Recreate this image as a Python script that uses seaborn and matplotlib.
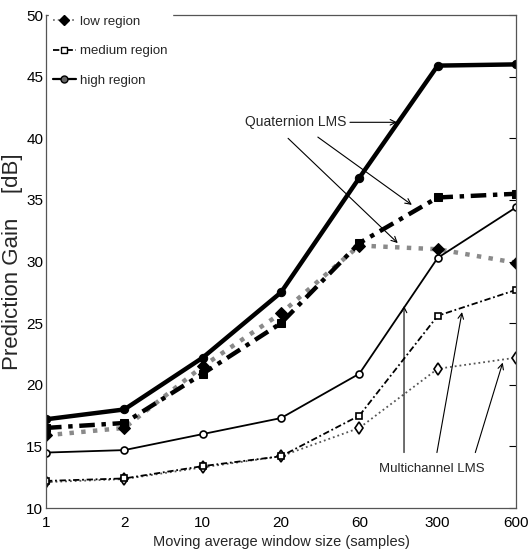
import numpy as np
import matplotlib
matplotlib.use("Agg")
import matplotlib.pyplot as plt
from matplotlib.lines import Line2D
import seaborn as sns

# window sizes (categorical, equally spaced on the axis)
window_labels = ["1", "2", "10", "20", "60", "300", "600"]

# Quaternion LMS
q_low = [15.9, 16.5, 21.5, 25.8, 31.3, 31.0, 29.9]
q_medium = [16.5, 16.9, 20.9, 25.0, 31.5, 35.2, 35.5]
q_high = [17.2, 18.0, 22.2, 27.5, 36.8, 45.9, 46.0]

# Multichannel LMS
m_low = [12.1, 12.35, 13.3, 14.2, 16.5, 21.3, 22.2]
m_medium = [12.2, 12.4, 13.4, 14.2, 17.5, 25.6, 27.7]
m_high = [14.5, 14.7, 16.0, 17.3, 20.9, 30.3, 34.4]

sns.set_style("white")
plt.rcParams['font.family'] = ['Liberation Sans', 'DejaVu Sans']

fig = plt.figure(figsize=(5.32, 5.59), dpi=100)
ax = fig.add_axes([0.0865, 0.0912, 0.8835, 0.8818])

x = np.arange(len(window_labels))
dashdot = (0, (3.5, 1.5, 1, 1.5))

# thick = quaternion, thin = multichannel
sns.lineplot(x=x, y=q_low, ax=ax, color="#8a8a8a", linewidth=3.2, linestyle=":",
             marker="D", markersize=6, markerfacecolor="black", markeredgecolor="black")
sns.lineplot(x=x, y=q_medium, ax=ax, color="black", linewidth=3.2, linestyle=dashdot,
             marker="s", markersize=6, markerfacecolor="black", markeredgecolor="black")
sns.lineplot(x=x, y=q_high, ax=ax, color="black", linewidth=3.2, linestyle="-",
             marker="o", markersize=6, markerfacecolor="black", markeredgecolor="black")

sns.lineplot(x=x, y=m_low, ax=ax, color="#555555", linewidth=1.3, linestyle=":",
             marker="d", markersize=6, markerfacecolor="white", markeredgecolor="black", markeredgewidth=1.2)
sns.lineplot(x=x, y=m_medium, ax=ax, color="black", linewidth=1.3, linestyle=dashdot,
             marker="s", markersize=4.5, markerfacecolor="white", markeredgecolor="black", markeredgewidth=1.2)
sns.lineplot(x=x, y=m_high, ax=ax, color="black", linewidth=1.3, linestyle="-",
             marker="o", markersize=5, markerfacecolor="white", markeredgecolor="black", markeredgewidth=1.2)

ax.set_xlim(0, len(window_labels) - 1)
ax.set_ylim(10, 50)
ax.set_xticks(x)
ax.set_xticklabels(window_labels)
ax.set_yticks(np.arange(10, 51, 5))
ax.tick_params(direction="in", length=5, width=0.8, labelsize=11, right=True, top=False,
               colors="black")
ax.tick_params(axis="x", pad=6)
ax.tick_params(axis="y", pad=2)
for s in ax.spines.values():
    s.set_color("#555555")
    s.set_linewidth(0.9)

ax.set_xlabel("Moving average window size (samples)", fontsize=10.5, labelpad=3)
ax.set_ylabel("Prediction Gain    [dB]", fontsize=16, labelpad=2)

# legend
handles = [
    Line2D([], [], color="#777777", linestyle=":", linewidth=1.3, marker="D", markersize=5,
           markerfacecolor="black", markeredgecolor="black"),
    Line2D([], [], color="black", linestyle=dashdot, linewidth=1.3, marker="s", markersize=4,
           markerfacecolor="white", markeredgecolor="black"),
    Line2D([], [], color="black", linestyle="-", linewidth=1.6, marker="o", markersize=5,
           markerfacecolor="#666666", markeredgecolor="black"),
]
leg = ax.legend(handles, ["low region", "medium region", "high region"], loc="upper left",
                bbox_to_anchor=(0.0, 1.012), fontsize=9.5, frameon=True, fancybox=False,
                framealpha=1, edgecolor="white", handlelength=1.8, handletextpad=0.3,
                labelspacing=1.3, borderaxespad=0.2, borderpad=0.3)
leg.set_zorder(10)

# annotations
arrow = dict(arrowstyle="->", color="black", lw=0.8, shrinkA=0, shrinkB=0)
ax.text(3.19, 41.3, "Quaternion LMS", fontsize=10, ha="center", va="center")
ax.annotate("", xy=(4.48, 41.3), xytext=(3.88, 41.3), arrowprops=arrow)
ax.annotate("", xy=(4.49, 31.5), xytext=(3.09, 40.0), arrowprops=arrow)
ax.annotate("", xy=(4.67, 34.6), xytext=(3.47, 40.1), arrowprops=arrow)

ax.text(4.92, 13.2, "Multichannel LMS", fontsize=9.5, ha="center", va="center")
ax.annotate("", xy=(4.57, 26.4), xytext=(4.57, 14.5), arrowprops=arrow)
ax.annotate("", xy=(5.31, 25.9), xytext=(4.99, 14.5), arrowprops=arrow)
ax.annotate("", xy=(5.83, 21.8), xytext=(5.48, 14.5), arrowprops=arrow)

fig.savefig("out.png", dpi=100)
